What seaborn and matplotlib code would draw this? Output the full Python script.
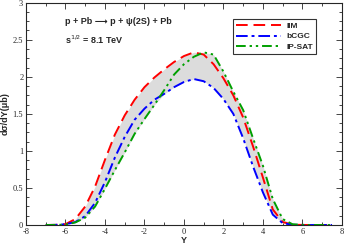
import numpy as np
import pandas as pd
import matplotlib
matplotlib.use('Agg')
import matplotlib.pyplot as plt
import seaborn as sns
from matplotlib.ticker import MultipleLocator, FormatStrFormatter

# rapidity grid and model predictions
Y = [-7, -6.5, -6, -5.5, -5, -4.5, -4, -3.5, -3, -2.5, -2, -1.5, -1, -0.5, 0,
     0.5, 1, 1.5, 2, 2.5, 3, 3.5, 4, 4.5, 5, 5.5, 6, 6.5, 7, 7.5]
iim = [0, 0.002, 0.012, 0.08, 0.25, 0.52, 0.88, 1.22, 1.48, 1.69, 1.86, 1.99, 2.1, 2.2, 2.28,
       2.33, 2.3, 2.17, 1.98, 1.75, 1.45, 1.06, 0.64, 0.21, 0.04, 0.005, 0.001, 0, 0, 0]
bcgc = [0, 0.002, 0.01, 0.04, 0.12, 0.3, 0.58, 0.91, 1.19, 1.42, 1.57, 1.69, 1.77, 1.86, 1.93,
        1.97, 1.94, 1.85, 1.7, 1.5, 1.17, 0.79, 0.44, 0.14, 0.025, 0.004, 0.001, 0, 0, 0]
ipsat = [0, 0.001, 0.006, 0.035, 0.1, 0.25, 0.49, 0.74, 0.98, 1.23, 1.43, 1.62, 1.82, 2.03, 2.17,
         2.27, 2.33, 2.3, 2.07, 1.8, 1.55, 1.17, 0.8, 0.35, 0.08, 0.01, 0.002, 0, 0, 0]
models = ['IIM', 'bCGC', 'IP-SAT']

df = pd.DataFrame({'Y': Y * 3,
                   'xs': iim + bcgc + ipsat,
                   'model': [m for m in models for _ in Y]})

sns.set_style('ticks')
plt.rcParams['font.family'] = ['Liberation Sans', 'DejaVu Sans']
plt.rcParams['axes.unicode_minus'] = False

fig = plt.figure(figsize=(3.45, 2.45), dpi=100)
ax = fig.add_axes([0.0754, 0.0816, 0.9156, 0.9074])

lo = np.minimum(np.minimum(iim, bcgc), ipsat)
hi = np.maximum(np.maximum(iim, bcgc), ipsat)
ax.fill_between(Y, lo, hi, color='#dcdcdc', lw=0, zorder=1)

pal = {'IIM': '#ff0000', 'bCGC': '#0000ff', 'IP-SAT': '#00a000'}
dashes = {'IIM': (6, 3), 'bCGC': (6, 2, 1.5, 2), 'IP-SAT': (5, 2, 1.2, 2, 1.2, 2)}
sns.lineplot(data=df, x='Y', y='xs', hue='model', style='model', palette=pal,
             dashes=dashes, lw=1.4, ax=ax, zorder=3)

ax.set_xlim(-8, 8)
ax.set_ylim(0, 3)
ax.xaxis.set_major_locator(MultipleLocator(2))
ax.xaxis.set_minor_locator(MultipleLocator(1))
ax.yaxis.set_major_locator(MultipleLocator(0.5))
ax.yaxis.set_minor_locator(MultipleLocator(0.125))
ax.xaxis.set_major_formatter(FormatStrFormatter('%g'))
ax.yaxis.set_major_formatter(FormatStrFormatter('%g'))
ax.tick_params(which='both', direction='in', top=True, right=True, width=0.6,
               labelsize=6, pad=2)
ax.tick_params(which='major', length=4)
ax.tick_params(which='minor', length=2)
for lab in ax.get_xticklabels() + ax.get_yticklabels():
    lab.set_family('Liberation Serif')
for s in ax.spines.values():
    s.set_linewidth(0.8)

ax.set_xlabel('Y', fontsize=6.5, fontweight='bold', labelpad=0)
ax.set_ylabel('dσ/dY(μb)', fontsize=6.5, fontweight='bold', labelpad=2)

ax.text(0.122, 0.905, 'p + Pb ⟶ p + ψ(2S) + Pb', transform=ax.transAxes,
        fontsize=6.5, fontweight='bold', family=['Liberation Sans', 'DejaVu Sans'])
ax.text(0.122, 0.815, 's$^{1/2}$ = 8.1 TeV', transform=ax.transAxes,
        fontsize=6.5, fontweight='bold')

leg = ax.legend(loc='upper right', bbox_to_anchor=(0.918, 0.925), fontsize=6,
                frameon=True, fancybox=False, handlelength=5.5, borderpad=0.35,
                labelspacing=0.3, handletextpad=0.6, borderaxespad=0)
leg.get_frame().set_edgecolor('black')
leg.get_frame().set_linewidth(0.8)
for t in leg.get_texts():
    t.set_fontweight('bold')

fig.savefig('out.png', dpi=100)
